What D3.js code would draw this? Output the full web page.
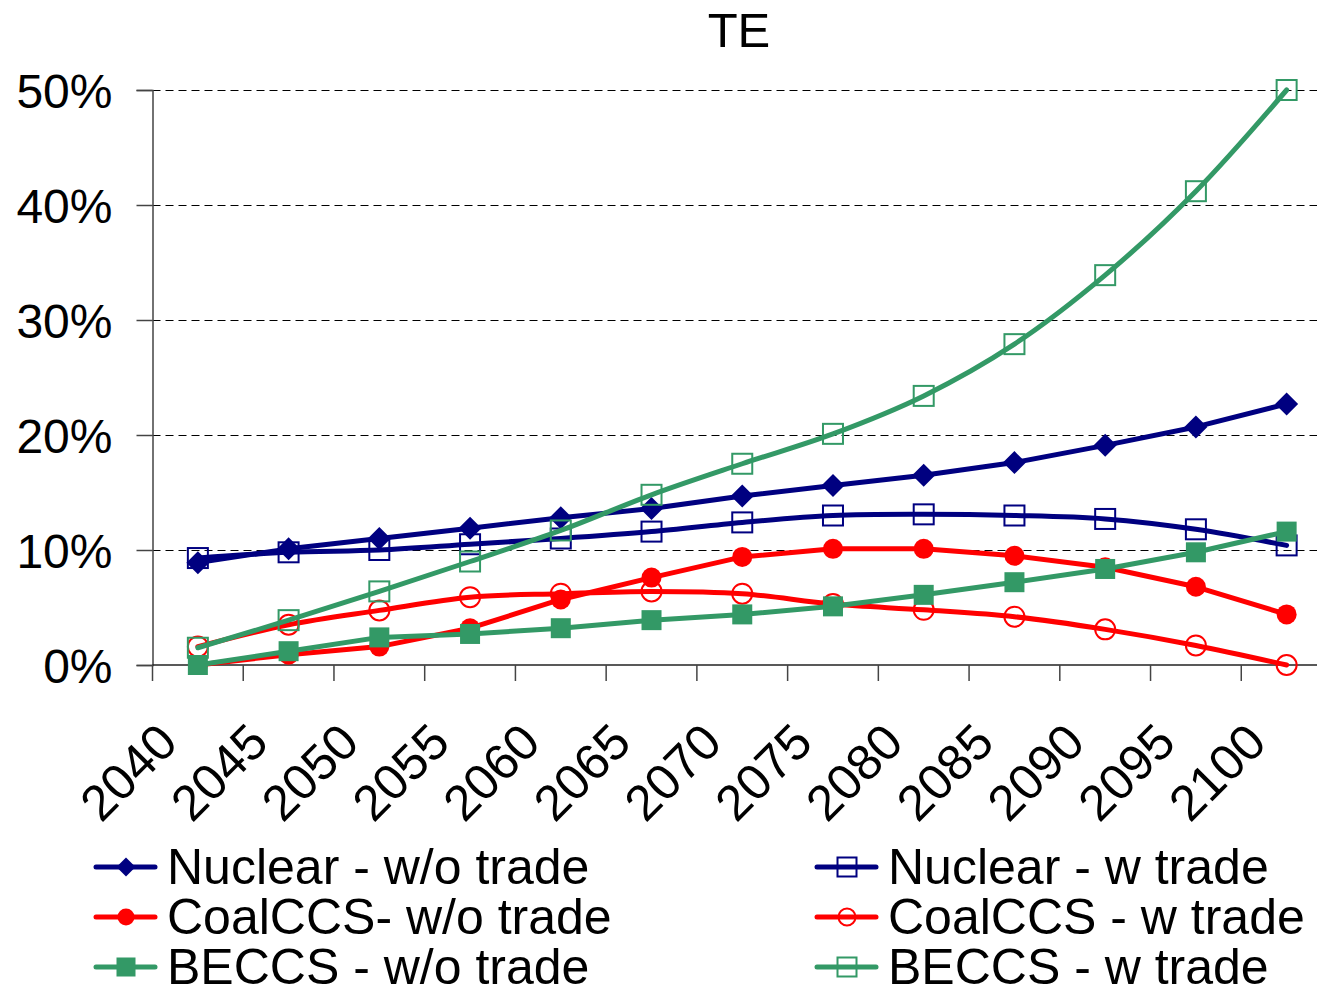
<!DOCTYPE html>
<html>
<head>
<meta charset="utf-8">
<script src="https://cdn.jsdelivr.net/npm/d3@7"></script>
<style>
  html, body { margin: 0; padding: 0; background: #fff; }
  svg { display: block; font-family: "Liberation Sans", Arial, sans-serif; }
</style>
</head>
<body>
<svg id="chart" width="1317" height="988"></svg>
<script>
// Share of technology in TE, by year
const years = ["2040","2045","2050","2055","2060","2065","2070","2075","2080","2085","2090","2095","2100"];
const yTicks = [0, 0.1, 0.2, 0.3, 0.4, 0.5];

const nuclearWo  = [8.9, 10.1, 11.0, 11.9, 12.8, 13.6, 14.7, 15.6, 16.5, 17.6, 19.1, 20.7, 22.7];
const nuclearW   = [9.3,  9.8, 10.0, 10.5, 11.0, 11.6, 12.4, 13.0, 13.1, 13.0, 12.7, 11.8, 10.4];
const coalWo     = [0.0,  0.9,  1.6,  3.2,  5.7,  7.6,  9.4, 10.1, 10.1,  9.5,  8.5,  6.8,  4.4];
const coalW      = [1.6,  3.5,  4.75, 5.9,  6.2,  6.4,  6.2,  5.3,  4.8,  4.2,  3.1,  1.7,  0.0];
const beccsWo    = [0.0,  1.2,  2.4,  2.7,  3.2,  3.9,  4.4,  5.1,  6.1,  7.2,  8.35, 9.8, 11.6];
const beccsW     = [1.5,  3.9,  6.4,  9.0, 11.7, 14.8, 17.5, 20.1, 23.4, 27.9, 33.9, 41.2, 50.0];

const series = [
  { name: "Nuclear - w/o trade",  values: nuclearWo, color: "#000080", marker: "diamond", filled: true,  smooth: false },
  { name: "Nuclear - w trade",    values: nuclearW,  color: "#000080", marker: "square",  filled: false, smooth: true  },
  { name: "CoalCCS- w/o trade",   values: coalWo,    color: "#FF0000", marker: "circle",  filled: true,  smooth: false },
  { name: "CoalCCS - w trade",    values: coalW,     color: "#FF0000", marker: "circle",  filled: false, smooth: true  },
  { name: "BECCS - w/o trade",    values: beccsWo,   color: "#339966", marker: "square",  filled: true,  smooth: false },
  { name: "BECCS - w trade",      values: beccsW,    color: "#339966", marker: "square",  filled: false, smooth: true  }
];

const svg = d3.select("#chart");
const plot = { left: 152.5, right: 1332, top: 90, bottom: 665 };

const x = d3.scaleBand().domain(years).range([plot.left, plot.right]).padding(0);
const y = d3.scaleLinear().domain([0, 0.5]).range([plot.bottom, plot.top]);
const cx = d => x(d) + x.bandwidth() / 2;

// Title
svg.append("text")
  .attr("x", 739).attr("y", 47)
  .attr("text-anchor", "middle")
  .attr("font-size", 49)
  .text("TE");

// Dashed gridlines
svg.append("g").selectAll("line")
  .data(yTicks.filter(t => t > 0))
  .join("line")
  .attr("x1", plot.left).attr("x2", plot.right)
  .attr("y1", d => Math.round(y(d)) + 0.5).attr("y2", d => Math.round(y(d)) + 0.5)
  .attr("stroke", "#000").attr("stroke-width", 1)
  .attr("stroke-dasharray", "8,5");

// Y axis
const yAxis = d3.axisLeft(y).tickValues(yTicks).tickFormat(d3.format(".0%")).tickSize(16).tickPadding(24);
const gy = svg.append("g").attr("transform", `translate(${plot.left},0)`).call(yAxis);
gy.select(".domain").attr("stroke", "#444").attr("stroke-width", 1.5);
gy.selectAll(".tick line").attr("stroke", "#444").attr("stroke-width", 1.5);
gy.selectAll(".tick text")
  .attr("font-size", 48).attr("fill", "#000")
  .attr("font-family", "'Liberation Sans', Arial, sans-serif")
  .attr("dy", "0.36em");

// X axis: line and tick marks at category boundaries
const gx = svg.append("g");
gx.append("line")
  .attr("x1", plot.left).attr("x2", plot.right)
  .attr("y1", plot.bottom).attr("y2", plot.bottom)
  .attr("stroke", "#222").attr("stroke-width", 1.5);
gx.selectAll("line.tk")
  .data(years)
  .join("line").attr("class", "tk")
  .attr("x1", d => x(d)).attr("x2", d => x(d))
  .attr("y1", plot.bottom).attr("y2", plot.bottom + 16)
  .attr("stroke", "#444").attr("stroke-width", 1.5);
gx.selectAll("text")
  .data(years)
  .join("text")
  .attr("transform", d => `translate(${cx(d) - 18},${plot.bottom + 80}) rotate(-45)`)
  .attr("text-anchor", "end")
  .attr("font-size", 50)
  .text(d => d);

// Marker drawing helper
function drawMarker(g, type, filled, color, size) {
  const sw = filled ? 0 : 2;
  const fill = filled ? color : "none";
  if (type === "diamond") {
    g.append("path")
      .attr("d", `M0,${-size}L${size},0L0,${size}L${-size},0Z`)
      .attr("fill", fill).attr("stroke", filled ? "none" : color).attr("stroke-width", sw);
  } else if (type === "circle") {
    g.append("circle").attr("r", size)
      .attr("fill", fill).attr("stroke", filled ? "none" : color).attr("stroke-width", sw);
  } else {
    g.append("rect")
      .attr("x", -size).attr("y", -size).attr("width", 2 * size).attr("height", 2 * size)
      .attr("fill", fill).attr("stroke", filled ? "none" : color).attr("stroke-width", sw);
  }
}

// Series lines and markers
const gSeries = svg.append("g");
series.forEach(s => {
  const pts = years.map((yr, i) => ({ yr, v: s.values[i] / 100 }));
  const line = d3.line()
    .x(d => cx(d.yr)).y(d => y(d.v))
    .curve(s.smooth ? d3.curveCatmullRom.alpha(0.5) : d3.curveLinear);
  const g = gSeries.append("g");
  g.append("path").datum(pts)
    .attr("d", line)
    .attr("fill", "none")
    .attr("stroke", s.color)
    .attr("stroke-width", 5)
    .attr("stroke-linejoin", "round")
    .attr("stroke-linecap", "round");
  const mSize = s.marker === "diamond" ? 11.5 : 10;
  pts.forEach(p => {
    const mg = g.append("g").attr("transform", `translate(${cx(p.yr)},${y(p.v)})`);
    drawMarker(mg, s.marker, s.filled, s.color, mSize);
  });
});

// Legend: two columns, three rows
const legend = svg.append("g");
const colX = [96, 817];
const rowY = [867, 917, 967];
series.forEach((s, i) => {
  const col = i % 2, row = Math.floor(i / 2);
  const g = legend.append("g").attr("transform", `translate(${colX[col]},${rowY[row]})`);
  g.append("line")
    .attr("x1", 0).attr("x2", 59).attr("y1", 0).attr("y2", 0)
    .attr("stroke", s.color).attr("stroke-width", 5).attr("stroke-linecap", "round");
  const mg = g.append("g").attr("transform", "translate(30,0)");
  drawMarker(mg, s.marker, s.filled, s.color, s.marker === "diamond" ? 9.5 : (s.marker === "circle" ? 8.5 : 9.5));
  g.append("text")
    .attr("x", 71).attr("y", 17)
    .attr("font-size", 50)
    .text(s.name);
});
</script>
</body>
</html>
